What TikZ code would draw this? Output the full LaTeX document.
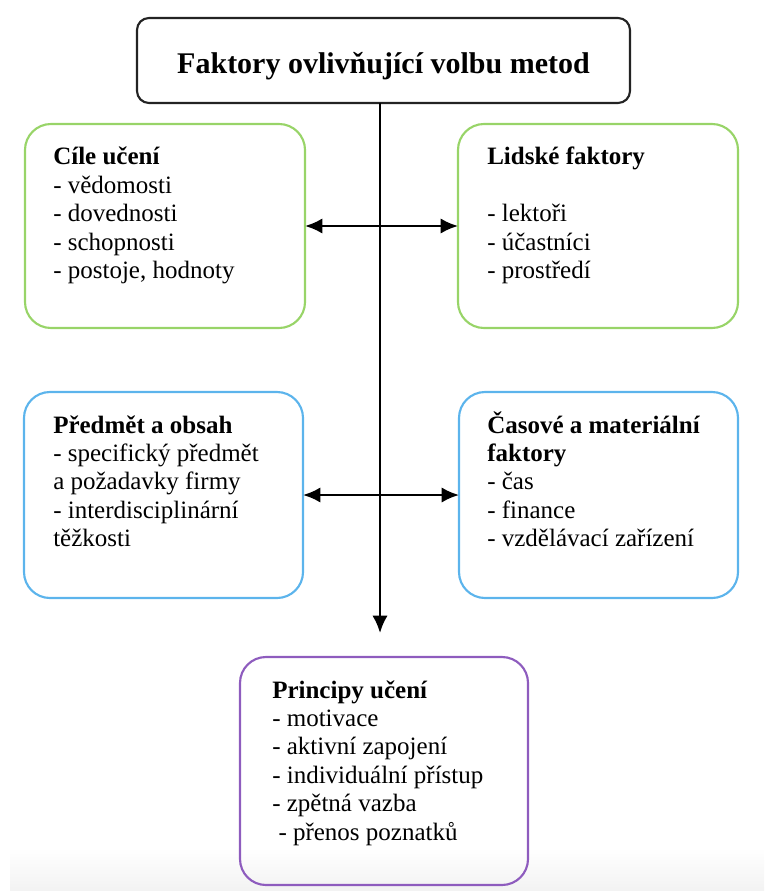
\documentclass[tikz,border=0pt]{standalone}
\usepackage{fontspec}
\setmainfont{Liberation Serif}
\usetikzlibrary{arrows.meta}
\definecolor{kgreen}{RGB}{152,212,104}
\definecolor{kblue}{RGB}{92,180,236}
\definecolor{kpurple}{RGB}{142,92,190}
\definecolor{kdark}{RGB}{35,35,35}
\tikzset{
  frame/.style={draw,line width=1.6pt,inner sep=0pt,outer sep=0pt,rounded corners=26pt*0.75},
  greenbox/.style={frame,draw=kgreen},
  bluebox/.style={frame,draw=kblue},
  purplebox/.style={frame,draw=kpurple},
  headbox/.style={frame,draw=kdark,rounded corners=9pt,text height=19pt,text depth=0pt,font=\fontsize{22.5}{26}\selectfont\bfseries},
  txt/.style={anchor=base west,inner sep=0pt,font=\fontsize{18.75}{21.3}\selectfont},
  arr/.style={line width=1.8pt,-{Latex[length=13pt,width=11.5pt]}},
  darr/.style={line width=1.8pt,{Latex[length=13pt,width=11.5pt]}-{Latex[length=13pt,width=11.5pt]}}
}
\begin{document}
\begin{tikzpicture}[x=0.75pt,y=-0.75pt]
\pgfmathsetmacro{\kline}{28.4}
\useasboundingbox (0,0) rectangle (764,891);
\shade[top color=white,bottom color=black!5] (10,848) rectangle (764,891);
% boxes
\node[headbox,minimum width={493*0.75pt},minimum height={85*0.75pt}] (faktory) at (383.5,60.5) {Faktory ovlivňující volbu metod};
\node[greenbox,minimum width={280*0.75pt},minimum height={204*0.75pt}] (cile) at (165,226) {};
\node[greenbox,minimum width={280*0.75pt},minimum height={204*0.75pt}] (lidske) at (598,226) {};
\node[bluebox,minimum width={279*0.75pt},minimum height={206*0.75pt}] (predmet) at (163.5,495) {};
\node[bluebox,minimum width={279*0.75pt},minimum height={206*0.75pt}] (casove) at (598.5,495) {};
\node[purplebox,minimum width={288*0.75pt},minimum height={228*0.75pt}] (princ) at (384,771) {};
% texts, line by line
\foreach \ky/\lb in {0/{\textbf{Cíle učení}},1/{- vědomosti},2/{- dovednosti},3/{- schopnosti},4/{- postoje, hodnoty}}{\node[txt] (cile\ky) at (53,{165+\kline*\ky}) {\lb};}
\foreach \ky/\lb in {0/{\textbf{Lidské faktory}},2/{- lektoři},3/{- účastníci},4/{- prostředí}}{\node[txt] (lidske\ky) at (487,{165+\kline*\ky}) {\lb};}
\foreach \ky/\lb in {0/{\textbf{Předmět a obsah}},1/{- specifický předmět},2/{a požadavky firmy},3/{- interdisciplinární},4/{těžkosti}}{\node[txt] (predmet\ky) at (53,{433+\kline*\ky}) {\lb};}
\foreach \ky/\lb in {0/{\textbf{Časové a materiální}},1/{\textbf{faktory}},2/{- čas},3/{- finance},4/{- vzdělávací zařízení}}{\node[txt] (casove\ky) at (487,{433+\kline*\ky}) {\lb};}
\foreach \ky/\lb in {0/{\textbf{Principy učení}},1/{- motivace},2/{- aktivní zapojení},3/{- individuální přístup},4/{- zpětná vazba},5/{\ - přenos poznatků}}{\node[txt] (princ\ky) at (272,{698+\kline*\ky}) {\lb};}
% connectors
\coordinate (tip) at (380,633);
\draw[arr] (faktory.south -| tip) -- (tip);
\draw[darr] (cile) -- (lidske);
\draw[darr] (predmet) -- (casove);
\end{tikzpicture}
\end{document}
